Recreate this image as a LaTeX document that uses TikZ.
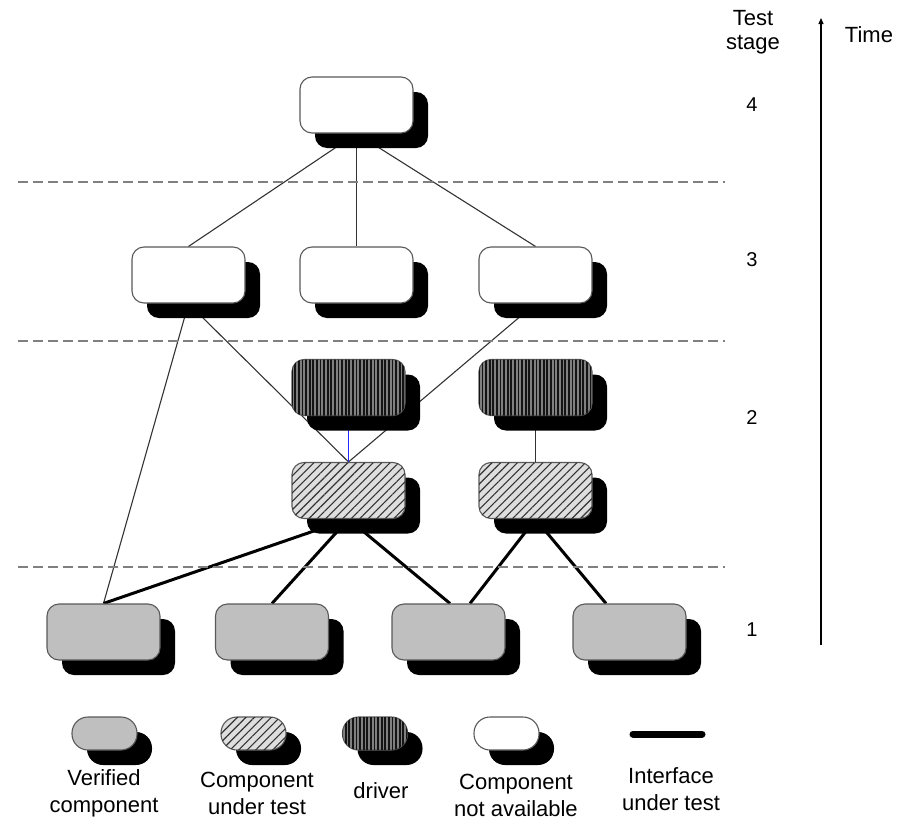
\documentclass[tikz,border=0pt]{standalone}
\usepackage{fontspec}
\setmainfont{Liberation Sans}
\usetikzlibrary{shadows,patterns.meta,backgrounds,calc,arrows.meta}

\tikzset{
  comp/.style={draw=black!65, line width=1.1pt, rounded corners=12pt,
    minimum width=113pt, minimum height=56pt, inner sep=0pt,
    drop shadow={shadow xshift=15pt, shadow yshift=-15pt, fill=black, opacity=1}},
  legbox/.style={draw=black!65, line width=1.1pt, rounded corners=16pt,
    minimum width=65pt, minimum height=33pt, inner sep=0pt,
    drop shadow={shadow xshift=15pt, shadow yshift=-15pt, fill=black, opacity=1}},
  verified/.style={fill=black!25},
  undertest/.style={fill=black!13,
    postaction={pattern={Lines[angle=45, distance=6pt, line width=1.1pt]}, pattern color=black!80}},
  driverbox/.style={fill=black!50,
    postaction={pattern={Lines[angle=90, distance=3.6pt, line width=1.8pt]}, pattern color=black!92}},
  absent/.style={fill=white},
  thin/.style={line width=1.1pt, black!80},
  iface/.style={line width=3pt, black},
  stagesep/.style={line width=1.8pt, black!50, dash pattern=on 10pt off 5pt},
  lbl/.style={font=\fontsize{22}{27}\selectfont, align=center, inner sep=0pt},
  stagenum/.style={font=\fontsize{20}{22}\selectfont, inner sep=0pt}
}

\begin{document}
\begin{tikzpicture}[x=1pt, y=-1pt]
\useasboundingbox (0,0) rectangle (908,819);

% stage separators
\draw[stagesep] (18,182) -- (725,182);
\draw[stagesep] (18,341) -- (725,341);
\draw[stagesep] (18,567) -- (725,567);

% stage 4
\node[comp, absent] (T) at (356.5,105) {};
% stage 3
\node[comp, absent] (L3) at (188.5,275) {};
\node[comp, absent] (M3) at (356.5,275) {};
\node[comp, absent] (R3) at (535.5,275) {};
% stage 2: drivers and components under test
\node[comp, driverbox] (D1) at (348.5,387.5) {};
\node[comp, driverbox] (D2) at (535.5,387.5) {};
\node[comp, undertest] (C1) at (348.5,490.5) {};
\node[comp, undertest] (C2) at (535.5,490.5) {};
% stage 1: verified components
\node[comp, verified] (B1) at (103.5,632) {};
\node[comp, verified] (B2) at (272,632) {};
\node[comp, verified] (B3) at (448.5,632) {};
\node[comp, verified] (B4) at (629.5,632) {};

% connections, kept behind the boxes and their shadows
\begin{scope}[on background layer]
  \draw[thin] (T.south) -- (L3.north);
  \draw[thin] (T.south) -- (M3.north);
  \draw[thin] (T.south) -- (R3.north);
  \draw[thin] (L3.south) -- (B1.north);
  \draw[thin] (L3.south) -- (C1.north);
  \draw[thin] (R3.south) -- (C1.north);
  \draw[line width=1.2pt, blue!85] (D1.south) -- (C1.north);
  \draw[thin] (D2.south) -- (C2.north);
  \draw[iface] (C1.south) -- (B1.north);
  \draw[iface] (C1.south) -- (B2.north);
  \draw[iface] (C1.south) -- ($(B3.north)+(1.5,0)$);
  \draw[iface] (C2.south) -- ($(B3.north)+(21.5,0)$);
  \draw[iface] (C2.south) -- ($(B4.north)+(-23.5,0)$);
\end{scope}

% stage labels and time axis
\node[lbl, font=\fontsize{22}{24}\selectfont] (stagehead) at (753,32) {Test\\stage};
\node[stagenum] (s4) at (752,105) {4};
\node[stagenum] (s3) at (752,260) {3};
\node[stagenum] (s2) at (752,418) {2};
\node[stagenum] (s1) at (752,630) {1};
\coordinate (tbot) at (821,645);
\coordinate (ttop) at (821,18);
\draw[line width=1.2pt, -{Triangle[length=6pt, width=5pt]}] (tbot) -- (ttop);
\node[lbl] (time) at (869,35) {Time};

% legend
\node[legbox, verified] (lg1) at (104.5,733.5) {};
\node[legbox, undertest] (lg2) at (253.5,733.5) {};
\node[legbox, driverbox] (lg3) at (375,733.5) {};
\node[legbox, absent] (lg4) at (506.5,733.5) {};
\coordinate (li1) at (633,734);
\coordinate (li2) at (702,734);
\draw[line width=7pt, line cap=round] (li1) -- (li2);

\node[lbl] (t1) at (104,793) {Verified\\component};
\node[lbl] (t2) at (257,793) {Component\\under test};
\node[lbl] (t3) at (381,791) {driver};
\node[lbl] (t4) at (516,795) {Component\\not available};
\node[lbl] (t5) at (671,789) {Interface\\under test};
\end{tikzpicture}
\end{document}
